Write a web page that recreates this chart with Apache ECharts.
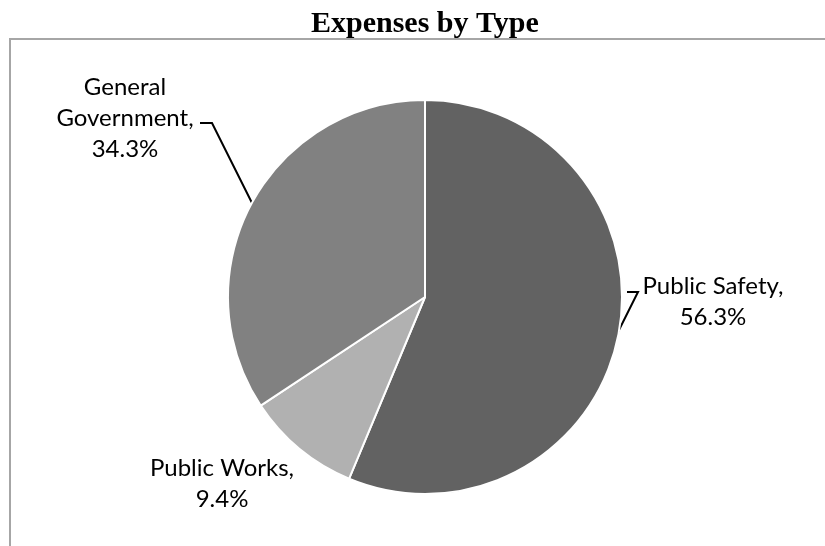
<!DOCTYPE html>
<html>
<head>
<meta charset="utf-8">
<script src="https://cdn.jsdelivr.net/npm/echarts@6/dist/echarts.min.js"></script>
<style>
  html, body { margin: 0; padding: 0; background: #fff; }
  #chart { width: 825px; height: 546px; }
</style>
</head>
<body>
<div id="chart"></div>
<script>
var titleText = 'Expenses by Type';
var categories = ['Public Safety', 'Public Works', 'General Government'];
var labelNames = ['Public Safety,', 'Public Works,', 'General\nGovernment,'];
var values = [56.3, 9.4, 34.3];
var colors = ['#626262', '#b1b1b1', '#818181'];

// label block centres and leader line paths (layout only)
var labelPos = [[713, 302], [222, 484], [125, 118]];
var leaderPts = [
  [[617, 334], [638, 292], [627, 292]],
  null,
  [[252, 203], [212, 123], [200, 123]]
];

var chart = echarts.init(document.getElementById('chart'));
chart.setOption({
  animation: false,
  backgroundColor: '#ffffff',
  title: {
    text: titleText,
    left: 306,
    top: 4,
    textStyle: {
      fontFamily: 'Liberation Serif',
      fontWeight: 'bold',
      fontSize: 30,
      color: '#000'
    }
  },
  graphic: [{
    type: 'rect',
    shape: { x: 10, y: 39, width: 830, height: 520 },
    style: { fill: 'none', stroke: '#a6a6a6', lineWidth: 2 },
    silent: true
  }],
  series: [{
    type: 'pie',
    center: [425, 297],
    radius: 197,
    startAngle: 90,
    clockwise: true,
    avoidLabelOverlap: false,
    itemStyle: { borderColor: '#ffffff', borderWidth: 2 },
    label: {
      show: true,
      position: 'outside',
      fontFamily: 'Lato',
      fontSize: 24,
      lineHeight: 31,
      color: '#000',
      align: 'center',
      formatter: function (p) {
        return labelNames[p.dataIndex] + '\n' + values[p.dataIndex].toFixed(1) + '%';
      }
    },
    labelLine: {
      show: true,
      lineStyle: { color: '#000', width: 2 }
    },
    labelLayout: function (params) {
      var i = params.dataIndex;
      var r = {
        x: labelPos[i][0],
        y: labelPos[i][1],
        align: 'center',
        verticalAlign: 'middle'
      };
      if (leaderPts[i]) r.labelLinePoints = leaderPts[i];
      return r;
    },
    data: categories.map(function (c, i) {
      return {
        name: c,
        value: values[i],
        itemStyle: { color: colors[i] },
        labelLine: { show: !!leaderPts[i] }
      };
    })
  }]
});
</script>
</body>
</html>
